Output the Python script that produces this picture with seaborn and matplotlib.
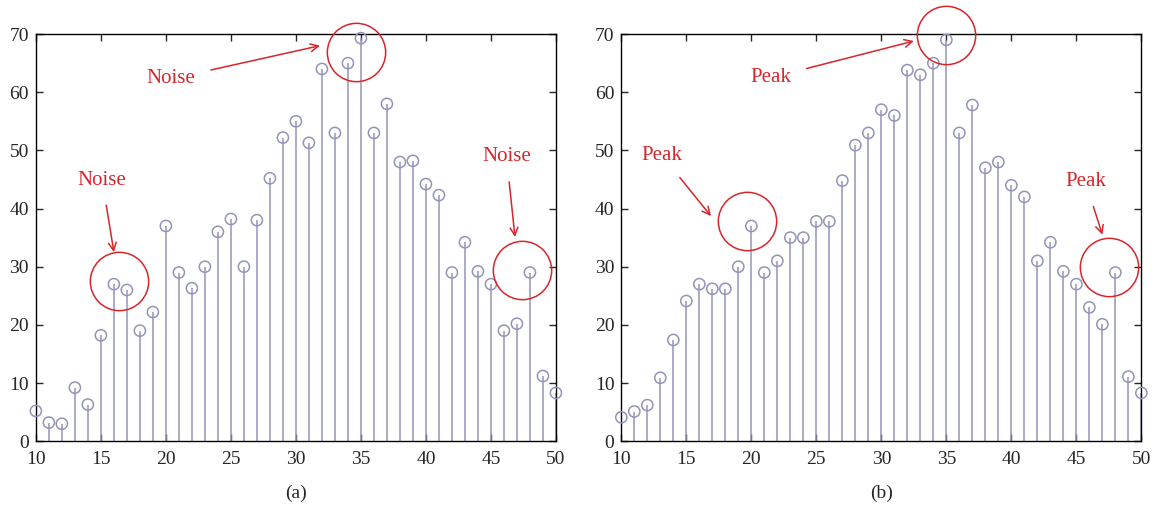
import matplotlib
matplotlib.use("Agg")
import matplotlib.pyplot as plt
import seaborn as sns
import pandas as pd

sns.set_style("ticks")
plt.rcParams["font.family"] = ["Liberation Serif", "DejaVu Serif"]

# dados
x = list(range(10, 51))
sinal_a = [5.2, 3.2, 3.0, 9.2, 6.3, 18.2, 27.0, 26.0, 19.0, 22.2,
           37.0, 29.0, 26.3, 30.0, 36.0, 38.2, 30.0, 38.0, 45.2, 52.2,
           55.0, 51.3, 64.0, 53.0, 65.0, 69.3, 53.0, 58.0, 48.0, 48.2,
           44.2, 42.3, 29.0, 34.2, 29.2, 27.0, 19.0, 20.2, 29.0, 11.2, 8.3]
sinal_b = [4.1, 5.1, 6.2, 10.9, 17.4, 24.1, 27.0, 26.2, 26.2, 30.0,
           37.0, 29.0, 31.0, 35.0, 35.0, 37.8, 37.8, 44.8, 50.9, 53.0,
           57.0, 56.0, 63.8, 63.0, 65.0, 69.0, 53.0, 57.8, 47.0, 48.0,
           44.0, 42.0, 31.0, 34.2, 29.2, 27.0, 23.0, 20.1, 29.0, 11.1, 8.3]

# anotacoes: (texto, posicao do texto, ponta da seta, centro do circulo)
anot_a = [
    ("Noise", (20.4, 62.3), (31.85, 68.0), (34.6, 67.0)),
    ("Noise", (15.1, 44.9), (16.0, 32.5), (16.4, 27.5)),
    ("Noise", (46.2, 48.9), (46.85, 35.1), (47.4, 29.4)),
]
anot_b = [
    ("Peak", (21.5, 62.5), (32.5, 68.8), (35.0, 69.9)),
    ("Peak", (13.1, 49.2), (16.9, 38.7), (19.7, 37.9)),
    ("Peak", (45.7, 44.6), (47.0, 35.5), (47.5, 29.9)),
]

COR_HASTE = "#9494ba"
COR_VERMELHO = "#d7262b"

fig = plt.figure(figsize=(11.57, 5.16), dpi=100)
ax_a = fig.add_axes([0.031, 0.145, 0.4495, 0.789])
ax_b = fig.add_axes([0.537, 0.145, 0.4495, 0.789])

for ax, valores, anot, rotulo in [(ax_a, sinal_a, anot_a, "(a)"),
                                  (ax_b, sinal_b, anot_b, "(b)")]:
    df = pd.DataFrame({"x": x, "y": valores})
    ax.vlines(df["x"], 0, df["y"], color=COR_HASTE, linewidth=1.1, zorder=2)
    sns.scatterplot(data=df, x="x", y="y", ax=ax, s=65, marker="o",
                    facecolors="none", edgecolor=COR_HASTE, linewidth=1.1,
                    zorder=3, clip_on=False)

    for texto, pos, ponta, centro in anot:
        ax.annotate(texto, xy=ponta, xytext=pos, color=COR_VERMELHO,
                    fontsize=15, ha="center", va="center",
                    arrowprops=dict(arrowstyle="->", color=COR_VERMELHO,
                                    lw=1.1, shrinkA=9, shrinkB=0,
                                    mutation_scale=14),
                    annotation_clip=False)
        ax.plot(*centro, marker="o", markersize=42, fillstyle="none",
                markeredgecolor=COR_VERMELHO, markeredgewidth=1.1,
                clip_on=False, zorder=4)

    ax.set_xlim(10, 50)
    ax.set_ylim(0, 70)
    ax.set_xticks(range(10, 51, 5))
    ax.set_yticks(range(0, 71, 10))
    ax.tick_params(direction="in", top=True, right=True, length=5,
                   labelsize=14, width=1)
    ax.tick_params(axis="x", pad=7)
    ax.tick_params(axis="y", pad=5)
    for s in ax.spines.values():
        s.set_visible(True)
        s.set_linewidth(1)
        s.set_color("black")
    ax.set_xlabel(rotulo, fontsize=14, labelpad=12)
    ax.set_ylabel("")

fig.savefig("out.png", dpi=100)
